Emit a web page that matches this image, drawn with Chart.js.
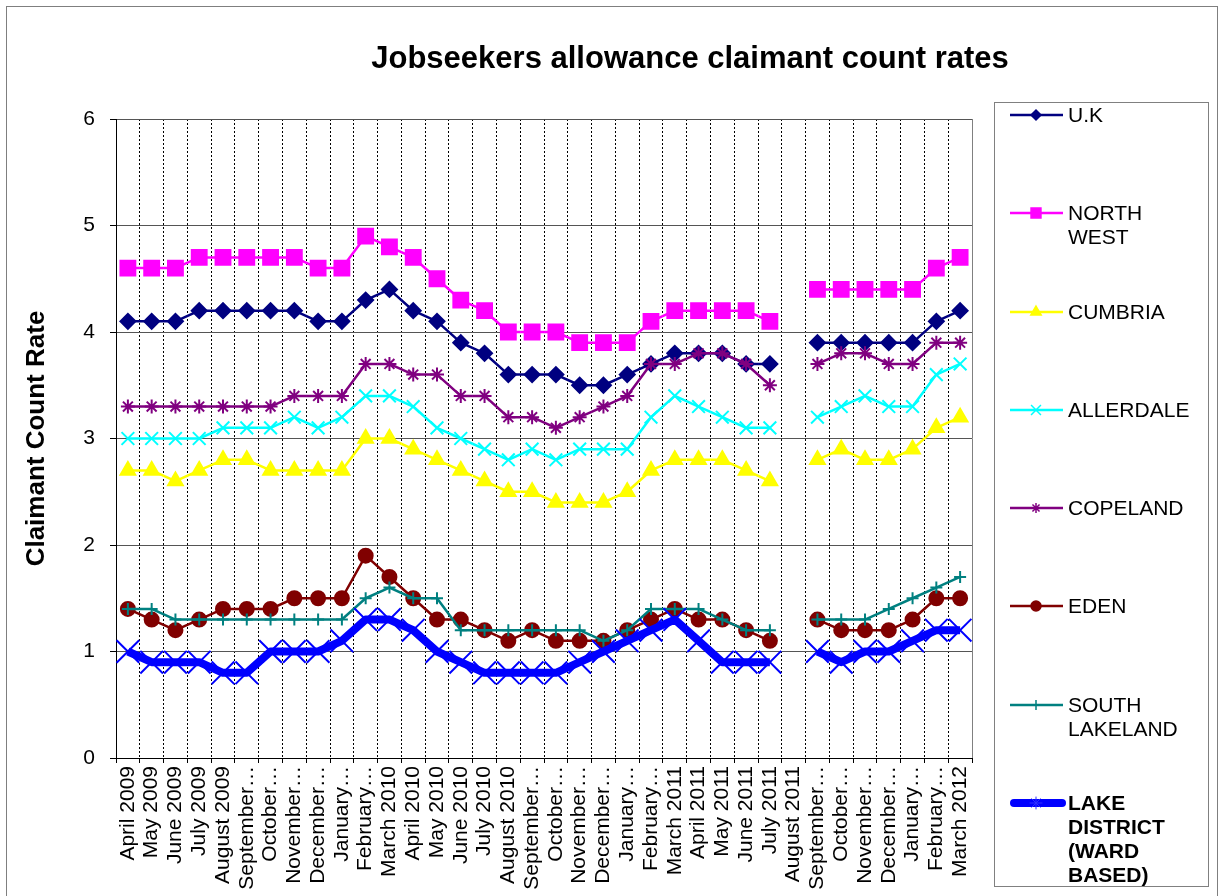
<!DOCTYPE html>
<html lang="en">
<head>
<meta charset="UTF-8" />
<title>Jobseekers allowance claimant count rates</title>
<script src="https://cdn.jsdelivr.net/npm/chart.js"></script>
<style>
  body { margin: 0; background: #fff; font-family: "Liberation Sans", Arial, sans-serif; }
  #wrap { position: relative; width: 1221px; height: 896px; overflow: hidden; }
  #frame { position: absolute; left: 6px; top: 6px; width: 1210px; height: 900px; border: 1px solid #7f7f7f; }
  #jsaChart { position: absolute; left: 0; top: 0; }
  h1 { position: absolute; left: 690px; top: 39px; transform: translateX(-50%); white-space: nowrap; margin: 0; font-size: 31px; line-height: 38px; font-weight: bold; }
  #legend { position: absolute; left: 994px; top: 102px; width: 215px; height: 785px; border: 1px solid #808080; box-sizing: border-box; background: #fff; }
  .item { height: 98.3px; display: flex; align-items: flex-start; }
  .item canvas { margin-left: 15px; margin-right: 2px; flex: none; }
  .item span { font-size: 21px; line-height: 24px; max-width: 135px; }
</style>
</head>
<body>
<div id="wrap">
  <div id="frame"></div>
  <canvas id="jsaChart" width="1221" height="896"></canvas>
  <h1>Jobseekers allowance claimant count rates</h1>
  <div id="legend"></div>
</div>

<script>
  // month labels as they appear on the axis (Excel truncates the long ones)
  const months = ['April 2009', 'May 2009', 'June 2009', 'July 2009', 'August 2009', 'September…', 'October…', 'November…', 'December…', 'January…', 'February…', 'March 2010',
                  'April 2010', 'May 2010', 'June 2010', 'July 2010', 'August 2010', 'September…', 'October…', 'November…', 'December…', 'January…', 'February…', 'March 2011',
                  'April 2011', 'May 2011', 'June 2011', 'July 2011', 'August 2011', 'September…', 'October…', 'November…', 'December…', 'January…', 'February…', 'March 2012'];

  const uk            = [4.1, 4.1, 4.1, 4.2, 4.2, 4.2, 4.2, 4.2, 4.1, 4.1, 4.3, 4.4, 4.2, 4.1, 3.9, 3.8, 3.6, 3.6, 3.6, 3.5, 3.5, 3.6, 3.7, 3.8, 3.8, 3.8, 3.7, 3.7, null, 3.9, 3.9, 3.9, 3.9, 3.9, 4.1, 4.2];
  const northWest     = [4.6, 4.6, 4.6, 4.7, 4.7, 4.7, 4.7, 4.7, 4.6, 4.6, 4.9, 4.8, 4.7, 4.5, 4.3, 4.2, 4.0, 4.0, 4.0, 3.9, 3.9, 3.9, 4.1, 4.2, 4.2, 4.2, 4.2, 4.1, null, 4.4, 4.4, 4.4, 4.4, 4.4, 4.6, 4.7];
  const cumbria       = [2.7, 2.7, 2.6, 2.7, 2.8, 2.8, 2.7, 2.7, 2.7, 2.7, 3.0, 3.0, 2.9, 2.8, 2.7, 2.6, 2.5, 2.5, 2.4, 2.4, 2.4, 2.5, 2.7, 2.8, 2.8, 2.8, 2.7, 2.6, null, 2.8, 2.9, 2.8, 2.8, 2.9, 3.1, 3.2];
  const allerdale     = [3.0, 3.0, 3.0, 3.0, 3.1, 3.1, 3.1, 3.2, 3.1, 3.2, 3.4, 3.4, 3.3, 3.1, 3.0, 2.9, 2.8, 2.9, 2.8, 2.9, 2.9, 2.9, 3.2, 3.4, 3.3, 3.2, 3.1, 3.1, null, 3.2, 3.3, 3.4, 3.3, 3.3, 3.6, 3.7];
  const copeland      = [3.3, 3.3, 3.3, 3.3, 3.3, 3.3, 3.3, 3.4, 3.4, 3.4, 3.7, 3.7, 3.6, 3.6, 3.4, 3.4, 3.2, 3.2, 3.1, 3.2, 3.3, 3.4, 3.7, 3.7, 3.8, 3.8, 3.7, 3.5, null, 3.7, 3.8, 3.8, 3.7, 3.7, 3.9, 3.9];
  const eden          = [1.4, 1.3, 1.2, 1.3, 1.4, 1.4, 1.4, 1.5, 1.5, 1.5, 1.9, 1.7, 1.5, 1.3, 1.3, 1.2, 1.1, 1.2, 1.1, 1.1, 1.1, 1.2, 1.3, 1.4, 1.3, 1.3, 1.2, 1.1, null, 1.3, 1.2, 1.2, 1.2, 1.3, 1.5, 1.5];
  const southLakeland = [1.4, 1.4, 1.3, 1.3, 1.3, 1.3, 1.3, 1.3, 1.3, 1.3, 1.5, 1.6, 1.5, 1.5, 1.2, 1.2, 1.2, 1.2, 1.2, 1.2, 1.1, 1.2, 1.4, 1.4, 1.4, 1.3, 1.2, 1.2, null, 1.3, 1.3, 1.3, 1.4, 1.5, 1.6, 1.7];
  const lakeDistrict  = [1.0, 0.9, 0.9, 0.9, 0.8, 0.8, 1.0, 1.0, 1.0, 1.1, 1.3, 1.3, 1.2, 1.0, 0.9, 0.8, 0.8, 0.8, 0.8, 0.9, 1.0, 1.1, 1.2, 1.3, 1.1, 0.9, 0.9, 0.9, null, 1.0, 0.9, 1.0, 1.0, 1.1, 1.2, 1.2];

  const yTicks = [0, 1, 2, 3, 4, 5, 6];

  Chart.defaults.font.family = '"Liberation Sans", Arial, sans-serif';
  Chart.defaults.color = '#000';

  // series look: [label, data, colour, marker, marker radius, line width, legend marker radius]
  const series = [
    ['U.K', uk, '#000080', 'rectRot', 7.5, 2.5, 5],
    ['NORTH WEST', northWest, '#FF00FF', 'rect', 10.5, 2.5, 7],
    ['CUMBRIA', cumbria, '#FFFF00', 'triangle', 8.5, 2.5, 6],
    ['ALLERDALE', allerdale, '#00FFFF', 'crossRot', 9, 2.5, 7],
    ['COPELAND', copeland, '#800080', 'star', 7, 2.5, 5],
    ['EDEN', eden, '#800000', 'circle', 7, 2.5, 5],
    ['SOUTH LAKELAND', southLakeland, '#008080', 'cross', 6, 2.5, 5],
    ['LAKE DISTRICT (WARD BASED)', lakeDistrict, '#0000FF', 'crossRot', 16, 8, 6]
  ];

  const datasets = series.map((s, i) => ({
    label: s[0],
    data: s[1],
    borderColor: s[2],
    backgroundColor: s[2],
    pointBackgroundColor: s[2],
    pointBorderColor: s[2],
    pointStyle: s[3],
    pointRadius: s[4],
    pointBorderWidth: 2,
    borderWidth: s[5],
    borderJoinStyle: 'round',
    order: series.length - i
  }));

  // solid right edge of the plot area
  const plotEdge = {
    id: 'plotEdge',
    beforeDatasetsDraw(chart) {
      const { ctx, chartArea: a } = chart;
      ctx.save();
      ctx.strokeStyle = '#808080';
      ctx.lineWidth = 1;
      ctx.beginPath();
      ctx.moveTo(Math.round(a.right) + 0.5, a.top);
      ctx.lineTo(Math.round(a.right) + 0.5, a.bottom);
      ctx.stroke();
      ctx.restore();
    }
  };

  const chart = new Chart(document.getElementById('jsaChart'), {
    type: 'line',
    data: { labels: months, datasets: datasets },
    options: {
      responsive: false,
      animation: false,
      devicePixelRatio: 1,
      layout: { padding: { left: 8, top: 119, right: 249, bottom: 0 } },
      plugins: {
        legend: { display: false },
        title: { display: false },
        tooltip: { enabled: false }
      },
      scales: {
        x: {
          offset: true,
          grid: { offset: true, color: '#000', lineWidth: 1, tickLength: 5, tickColor: '#000' },
          border: { color: '#000', width: 1, dash: [2, 2] },
          ticks: { autoSkip: false, maxRotation: 90, minRotation: 90, padding: 3, font: { size: 21 } },
          afterFit(scale) { scale.height = 138; }
        },
        y: {
          min: 0,
          max: 6,
          afterBuildTicks(scale) { scale.ticks = yTicks.map(v => ({ value: v })); },
          ticks: { padding: 15, font: { size: 21 } },
          grid: { color: '#555', lineWidth: 1, tickLength: 6, tickColor: '#000' },
          border: { color: '#000', width: 1 },
          title: { display: true, text: 'Claimant Count Rate', font: { size: 26, weight: 'bold' }, padding: { top: 13, bottom: 0 } },
          afterFit(scale) { scale.width = 108; }
        }
      }
    },
    plugins: [plotEdge]
  });

  // HTML legend built from the chart's datasets
  const legend = document.getElementById('legend');
  const drawPoint = Chart.helpers && Chart.helpers.drawPoint;
  chart.data.datasets.forEach((ds, i) => {
    const item = document.createElement('div');
    item.className = 'item';
    const c = document.createElement('canvas');
    c.width = 56; c.height = 24;
    const ctx = c.getContext('2d');
    const thick = ds.borderWidth > 4;
    ctx.strokeStyle = ds.borderColor;
    ctx.lineWidth = ds.borderWidth;
    ctx.lineCap = thick ? 'round' : 'butt';
    ctx.beginPath();
    ctx.moveTo(thick ? 4 : 0, 12);
    ctx.lineTo(thick ? 52 : 53, 12);
    ctx.stroke();
    if (drawPoint) {
      ctx.fillStyle = thick ? ds.borderColor : ds.pointBackgroundColor;
      ctx.strokeStyle = thick ? '#3030ff' : ds.pointBorderColor;
      ctx.lineWidth = thick ? 1 : 1.5;
      drawPoint(ctx, { pointStyle: thick ? 'star' : ds.pointStyle, radius: series[i][6], rotation: 0, borderWidth: 1.5 }, 26, 12);
    }
    const t = document.createElement('span');
    t.textContent = ds.label;
    if (thick) t.style.fontWeight = 'bold';
    item.appendChild(c);
    item.appendChild(t);
    legend.appendChild(item);
  });
</script>
</body>
</html>
